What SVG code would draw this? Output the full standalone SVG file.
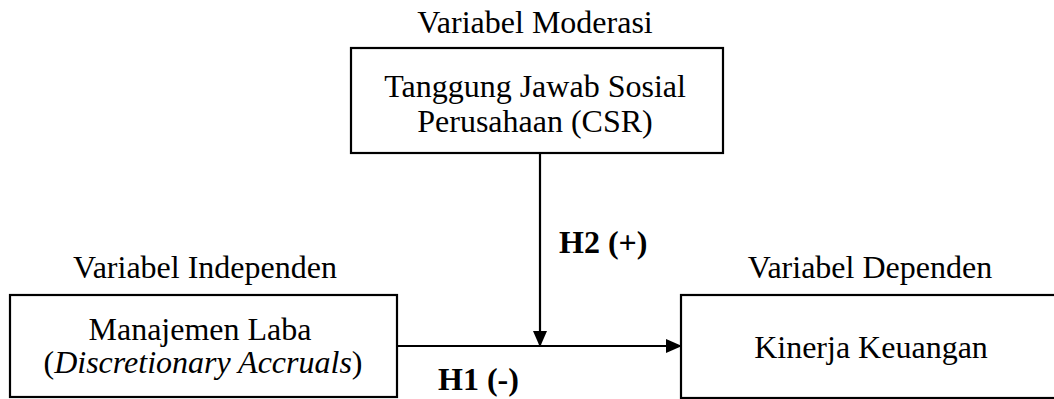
<svg xmlns="http://www.w3.org/2000/svg" width="1054" height="399" viewBox="0 0 1054 399">
<style>
text{font-family:"Liberation Serif","Times New Roman",serif;font-size:32px;fill:#000;text-anchor:middle}
.b{font-weight:bold;text-anchor:start}
.box{fill:#fff;stroke:#000;stroke-width:2.2}
.ln{stroke:#000;stroke-width:2.2;fill:none}
</style>
<defs>
<marker id="ah" markerWidth="16" markerHeight="14" refX="15" refY="7" orient="auto" markerUnits="userSpaceOnUse">
<path d="M0,0 L16,7 L0,14 Z" fill="#000"/>
</marker>
</defs>
<rect width="1054" height="399" fill="#fff"/>
<g id="connectors">
<line class="ln" x1="540" y1="153" x2="540" y2="346" marker-end="url(#ah)"/>
<line class="ln" x1="397" y1="346" x2="681" y2="346" marker-end="url(#ah)"/>
<text class="b" x="559" y="253">H2 (+)</text>
<text class="b" x="438" y="390">H1 (-)</text>
</g>
<g id="csr">
<text x="535" y="33">Variabel Moderasi</text>
<rect class="box" x="351" y="48" width="372" height="105"/>
<text x="535" y="97">Tanggung Jawab Sosial</text>
<text x="535" y="132">Perusahaan (CSR)</text>
</g>
<g id="ml">
<text x="205" y="278">Variabel Independen</text>
<rect class="box" x="10" y="295" width="387" height="102"/>
<text x="200" y="340">Manajemen Laba</text>
<text x="203" y="373">(<tspan font-style="italic">Discretionary Accruals</tspan>)</text>
</g>
<g id="kk">
<text x="870" y="278">Variabel Dependen</text>
<rect class="box" x="681" y="295" width="380" height="103"/>
<text x="871" y="358">Kinerja Keuangan</text>
</g>
</svg>
